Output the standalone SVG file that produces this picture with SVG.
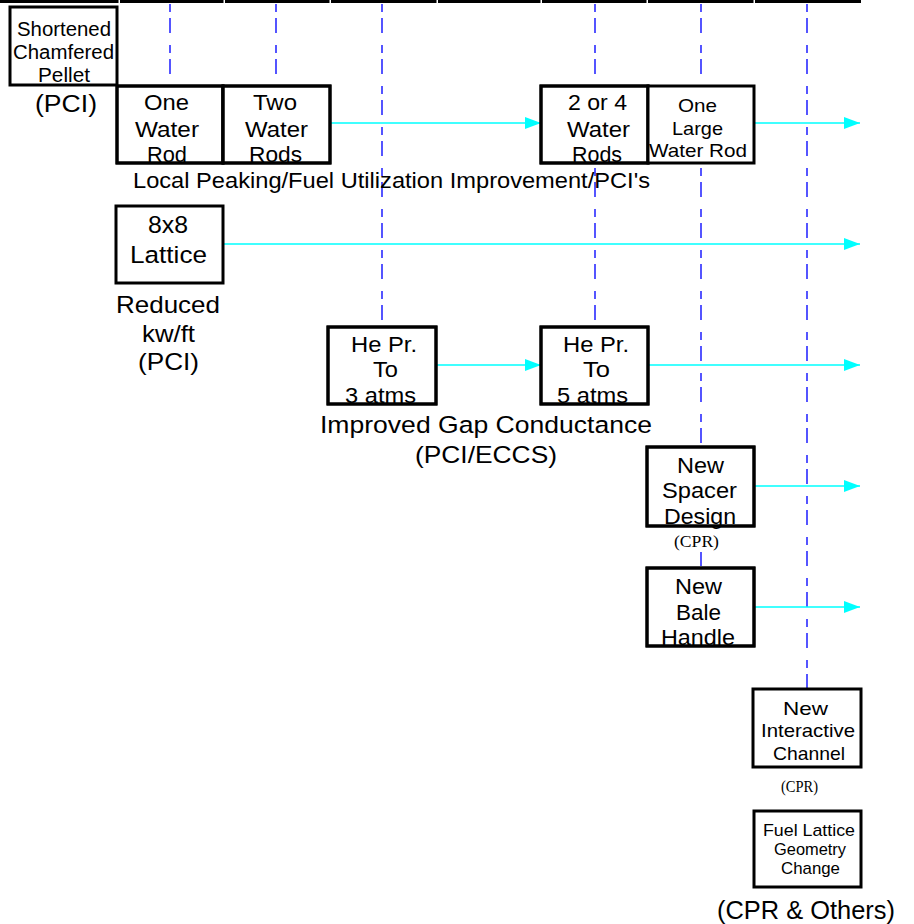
<svg xmlns="http://www.w3.org/2000/svg" width="914" height="924" viewBox="0 0 914 924">
<defs>
<marker id="ah" markerUnits="userSpaceOnUse" markerWidth="16" markerHeight="12" refX="16" refY="6" orient="auto">
<path d="M0,0 L16,6 L0,12 z" fill="#00FFFF"/>
</marker>
</defs>
<style>
.box{fill:#fff;stroke:#000;stroke-width:3}
.t{font-family:"Liberation Sans",Arial,sans-serif;fill:#000;text-anchor:middle}
.s{font-family:"Liberation Serif","Times New Roman",serif;fill:#000;text-anchor:middle}
.guide{stroke:#2B2BFF;stroke-width:1.6;stroke-dasharray:8 6 15 12;fill:none}
.arr{stroke:#00FFFF;stroke-width:1.6;fill:none;marker-end:url(#ah)}
.axis{stroke:#000;stroke-width:3}
</style>
<rect width="914" height="924" fill="#fff"/>
<g id="axis">
<line class="axis" x1="0" y1="1.5" x2="118.5" y2="1.5"/>
<line class="axis" x1="120" y1="1.5" x2="223.5" y2="1.5"/>
<line class="axis" x1="225" y1="1.5" x2="329.5" y2="1.5"/>
<line class="axis" x1="331" y1="1.5" x2="436.5" y2="1.5"/>
<line class="axis" x1="438" y1="1.5" x2="540.5" y2="1.5"/>
<line class="axis" x1="542" y1="1.5" x2="646.5" y2="1.5"/>
<line class="axis" x1="648" y1="1.5" x2="753.5" y2="1.5"/>
<line class="axis" x1="755" y1="1.5" x2="861" y2="1.5"/>
</g>
<g id="guides">
<line class="guide" x1="170" y1="4" x2="170" y2="85"/>
<line class="guide" x1="276" y1="4" x2="276" y2="85"/>
<line class="guide" x1="382" y1="4" x2="382" y2="326"/>
<line class="guide" x1="595" y1="4" x2="595" y2="326"/>
<line class="guide" x1="701" y1="4" x2="701" y2="567"/>
<line class="guide" x1="807" y1="4" x2="807" y2="689"/>
</g>
<g id="connectors">
<line class="arr" x1="331" y1="123" x2="541" y2="123"/>
<line class="arr" x1="755" y1="123" x2="860" y2="123"/>
<line class="arr" x1="224" y1="244" x2="860" y2="244"/>
<line class="arr" x1="437" y1="365" x2="541" y2="365"/>
<line class="arr" x1="649" y1="365" x2="860" y2="365"/>
<line class="arr" x1="755" y1="486" x2="860" y2="486"/>
<line class="arr" x1="755" y1="607" x2="860" y2="607"/>
</g>
<g id="shortened-pellet">
<rect class="box" x="10" y="7" width="107" height="78"/>
<text class="t" font-size="20" x="64" y="36" textLength="94" lengthAdjust="spacingAndGlyphs">Shortened</text>
<text class="t" font-size="20" x="63.5" y="59" textLength="101" lengthAdjust="spacingAndGlyphs">Chamfered</text>
<text class="t" font-size="20" x="64" y="82" textLength="52" lengthAdjust="spacingAndGlyphs">Pellet</text>
</g>
<g id="label-pci-1">
<text class="t" font-size="23" x="66" y="112" textLength="62" lengthAdjust="spacingAndGlyphs">(PCI)</text>
</g>
<g id="one-water-rod">
<rect class="box" x="117" y="86" width="106" height="77"/>
<text class="t" font-size="22.5" x="166.5" y="110" textLength="45" lengthAdjust="spacingAndGlyphs">One</text>
<text class="t" font-size="22.5" x="167" y="137" textLength="64" lengthAdjust="spacingAndGlyphs">Water</text>
<text class="t" font-size="22.5" x="167" y="162" textLength="40" lengthAdjust="spacingAndGlyphs">Rod</text>
<rect x="117" y="86" width="106" height="77" fill="none" stroke="#000" stroke-width="3"/>
</g>
<g id="two-water-rods">
<rect class="box" x="223" y="86" width="107" height="77"/>
<text class="t" font-size="22.5" x="275" y="110" textLength="44" lengthAdjust="spacingAndGlyphs">Two</text>
<text class="t" font-size="22.5" x="276.5" y="137" textLength="63" lengthAdjust="spacingAndGlyphs">Water</text>
<text class="t" font-size="22.5" x="275.5" y="162" textLength="53" lengthAdjust="spacingAndGlyphs">Rods</text>
<rect x="223" y="86" width="107" height="77" fill="none" stroke="#000" stroke-width="3"/>
</g>
<g id="label-local-peaking">
<text class="t" font-size="22.5" x="391.5" y="188" textLength="517" lengthAdjust="spacingAndGlyphs">Local Peaking/Fuel Utilization Improvement/PCI's</text>
</g>
<g id="two-or-four-water-rods">
<rect class="box" x="541" y="86" width="107" height="77"/>
<text class="t" font-size="22.5" x="597.5" y="110" textLength="59" lengthAdjust="spacingAndGlyphs">2 or 4</text>
<text class="t" font-size="22.5" x="598.5" y="137" textLength="63" lengthAdjust="spacingAndGlyphs">Water</text>
<text class="t" font-size="22.5" x="597" y="162" textLength="50" lengthAdjust="spacingAndGlyphs">Rods</text>
<rect x="541" y="86" width="107" height="77" fill="none" stroke="#000" stroke-width="3"/>
</g>
<g id="one-large-water-rod">
<rect class="box" x="648" y="86" width="106" height="77"/>
<text class="t" font-size="19" x="697.5" y="112" textLength="39" lengthAdjust="spacingAndGlyphs">One</text>
<text class="t" font-size="19" x="697.5" y="135" textLength="51" lengthAdjust="spacingAndGlyphs">Large</text>
<text class="t" font-size="19" x="698" y="157" textLength="98" lengthAdjust="spacingAndGlyphs">Water Rod</text>
</g>
<g id="lattice-8x8">
<rect class="box" x="116" y="206" width="107" height="77"/>
<text class="t" font-size="24.5" x="168" y="233" textLength="40" lengthAdjust="spacingAndGlyphs">8x8</text>
<text class="t" font-size="24.5" x="168.5" y="263" textLength="77" lengthAdjust="spacingAndGlyphs">Lattice</text>
</g>
<g id="label-reduced">
<text class="t" font-size="24.5" x="168" y="313" textLength="104" lengthAdjust="spacingAndGlyphs">Reduced</text>
<text class="t" font-size="24.5" x="168.5" y="342" textLength="53" lengthAdjust="spacingAndGlyphs">kw/ft</text>
<text class="t" font-size="24.5" x="168.5" y="370" textLength="61" lengthAdjust="spacingAndGlyphs">(PCI)</text>
</g>
<g id="he-3-atms">
<rect class="box" x="328" y="327" width="108" height="77"/>
<text class="t" font-size="22.5" x="384" y="352" textLength="66" lengthAdjust="spacingAndGlyphs">He Pr.</text>
<text class="t" font-size="22.5" x="385.5" y="377" textLength="25" lengthAdjust="spacingAndGlyphs">To</text>
<text class="t" font-size="22.5" x="380.5" y="403" textLength="71" lengthAdjust="spacingAndGlyphs">3 atms</text>
<rect x="328" y="327" width="108" height="77" fill="none" stroke="#000" stroke-width="3"/>
</g>
<g id="he-5-atms">
<rect class="box" x="541" y="327" width="107" height="77"/>
<text class="t" font-size="22.5" x="596" y="352" textLength="66" lengthAdjust="spacingAndGlyphs">He Pr.</text>
<text class="t" font-size="22.5" x="596.5" y="377" textLength="27" lengthAdjust="spacingAndGlyphs">To</text>
<text class="t" font-size="22.5" x="592.5" y="403" textLength="71" lengthAdjust="spacingAndGlyphs">5 atms</text>
<rect x="541" y="327" width="107" height="77" fill="none" stroke="#000" stroke-width="3"/>
</g>
<g id="label-gap-conductance">
<text class="t" font-size="24.5" x="486" y="433" textLength="332" lengthAdjust="spacingAndGlyphs">Improved Gap Conductance</text>
<text class="t" font-size="24.5" x="486" y="463" textLength="142" lengthAdjust="spacingAndGlyphs">(PCI/ECCS)</text>
</g>
<g id="new-spacer-design">
<rect class="box" x="647" y="447" width="107" height="79"/>
<text class="t" font-size="22.5" x="700.5" y="473" textLength="47" lengthAdjust="spacingAndGlyphs">New</text>
<text class="t" font-size="22.5" x="699.5" y="498" textLength="75" lengthAdjust="spacingAndGlyphs">Spacer</text>
<text class="t" font-size="22.5" x="700" y="524" textLength="72" lengthAdjust="spacingAndGlyphs">Design</text>
<rect x="647" y="447" width="107" height="79" fill="none" stroke="#000" stroke-width="3"/>
</g>
<g id="label-cpr-1">
<rect x="672" y="530" width="50" height="22" fill="#fff"/>
<text class="s" font-size="17" x="696.5" y="547" textLength="45" lengthAdjust="spacingAndGlyphs">(CPR)</text>
</g>
<g id="new-bale-handle">
<rect class="box" x="647" y="568" width="107" height="78"/>
<text class="t" font-size="22.5" x="698.5" y="594" textLength="47" lengthAdjust="spacingAndGlyphs">New</text>
<text class="t" font-size="22.5" x="698.5" y="620" textLength="45" lengthAdjust="spacingAndGlyphs">Bale</text>
<text class="t" font-size="22.5" x="698" y="645" textLength="74" lengthAdjust="spacingAndGlyphs">Handle</text>
<rect x="647" y="568" width="107" height="78" fill="none" stroke="#000" stroke-width="3"/>
</g>
<g id="new-interactive-channel">
<rect class="box" x="753" y="689" width="108" height="78"/>
<text class="t" font-size="19" x="805.5" y="715" textLength="45" lengthAdjust="spacingAndGlyphs">New</text>
<text class="t" font-size="19" x="808" y="737" textLength="94" lengthAdjust="spacingAndGlyphs">Interactive</text>
<text class="t" font-size="19" x="809" y="760" textLength="72" lengthAdjust="spacingAndGlyphs">Channel</text>
</g>
<g id="label-cpr-2">
<text class="s" font-size="16" x="799.5" y="792" textLength="37" lengthAdjust="spacingAndGlyphs">(CPR)</text>
</g>
<g id="fuel-lattice-geometry-change">
<rect class="box" x="754" y="811" width="107" height="76"/>
<text class="t" font-size="17" x="809" y="836" textLength="92" lengthAdjust="spacingAndGlyphs">Fuel Lattice</text>
<text class="t" font-size="17" x="810" y="855" textLength="72" lengthAdjust="spacingAndGlyphs">Geometry</text>
<text class="t" font-size="17" x="810.5" y="874" textLength="59" lengthAdjust="spacingAndGlyphs">Change</text>
</g>
<g id="label-cpr-others">
<text class="t" font-size="25" x="806" y="919" textLength="178" lengthAdjust="spacingAndGlyphs">(CPR &amp; Others)</text>
</g>
</svg>
